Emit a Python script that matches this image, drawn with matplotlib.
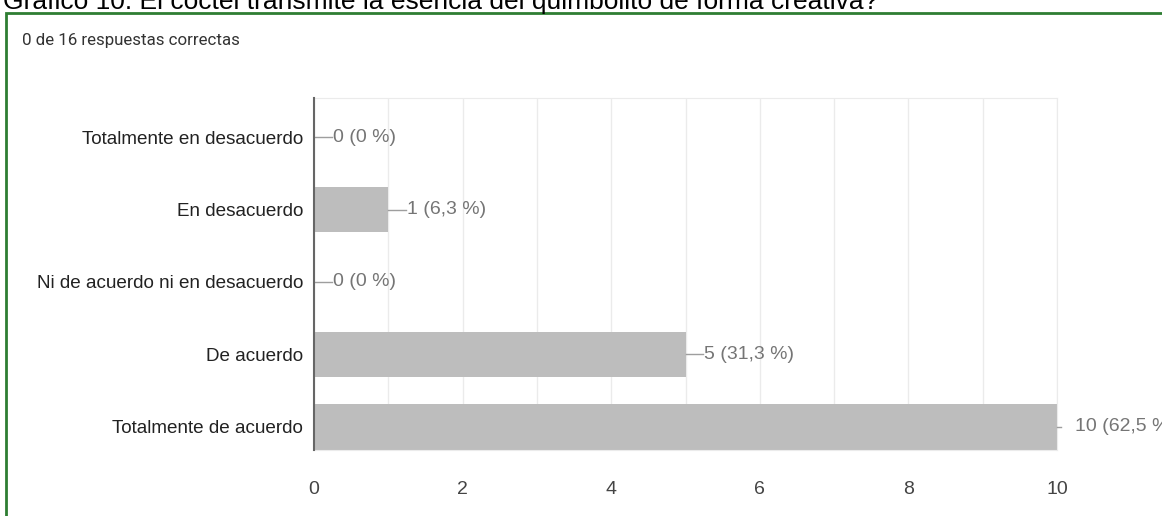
import numpy as np
import matplotlib.pyplot as plt
from matplotlib.patches import Rectangle

categories = ["Totalmente en desacuerdo", "En desacuerdo", "Ni de acuerdo ni en desacuerdo",
              "De acuerdo", "Totalmente de acuerdo"]
counts = [0, 1, 0, 5, 10]
percent_labels = ["0 (0 %)", "1 (6,3 %)", "0 (0 %)", "5 (31,3 %)", "10 (62,5 %)"]
x_ticks = [0, 2, 4, 6, 8, 10]

plt.rcParams['font.family'] = ['Liberation Sans', 'DejaVu Sans']

fig = plt.figure(figsize=(11.62, 5.16), dpi=100)

# caption above the green frame, cut off by the top edge
fig.text(0.003, 1 - 9/516, "Gráfico 10: El cóctel transmite la esencia del quimbolito de forma creativa?",
         fontsize=19, color='black', va='baseline', ha='left')

# green frame
frame = Rectangle((6/1162, -0.05), 1.2, 1 - 13/516 + 0.05, transform=fig.transFigure,
                  fill=False, edgecolor='#2e7d32', linewidth=2, clip_on=False)
fig.patches.append(frame)

fig.text(22/1162, 1 - 41/516, "0 de 16 respuestas correctas", fontsize=12.2, color='#333333',
         family=['Roboto', 'DejaVu Sans'], va='center', ha='left')

ax = fig.add_axes([314/1162, 1 - 450/516, (1057 - 314)/1162, (450 - 98)/516])
y = np.arange(len(categories))
ax.barh(y, counts, height=0.63, color='#bdbdbd', zorder=2)

ax.set_xlim(0, 10)
ax.set_ylim(4.32, -0.54)
ax.set_xticks(x_ticks)
ax.set_xticks(np.arange(0, 11, 1), minor=True)
ax.set_yticks(y)
ax.set_yticklabels(categories)
ax.grid(True, which='both', axis='x', color='#ebebeb', linewidth=1, zorder=0)
ax.tick_params(axis='both', which='both', length=0, labelsize=14, colors='#444444')
ax.tick_params(axis='y', labelsize=13.6)
ax.tick_params(axis='x', pad=22)
ax.tick_params(axis='y', pad=8)
for t in ax.get_yticklabels():
    t.set_color('#222222')

for side in ['top', 'right', 'bottom']:
    ax.spines[side].set_color('#ebebeb')
ax.spines['left'].set_color('#666666')
ax.spines['left'].set_linewidth(1.5)
ax.spines['left'].set_zorder(3)

for i, (c, lab) in enumerate(zip(counts, percent_labels)):
    if c < 10:
        ax.plot([c, c + 0.24], [i, i], color='#9e9e9e', linewidth=1, zorder=3, clip_on=False)
        ax.text(c + 0.25, i, lab, fontsize=14, color='#757575', va='center', ha='left', clip_on=False)
    else:
        ax.plot([c, c + 0.05], [i, i], color='#9e9e9e', linewidth=1, zorder=3, clip_on=False)
        ax.text(c + 0.24, i, lab, fontsize=14, color='#757575', va='center', ha='left', clip_on=False)

fig.savefig("out.png", dpi=100)
